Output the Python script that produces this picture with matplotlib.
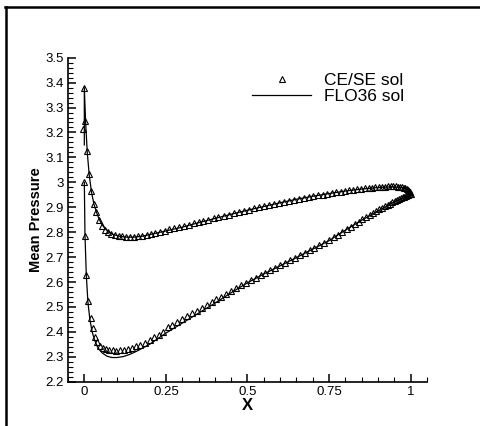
import matplotlib
matplotlib.use("Agg")
import matplotlib.pyplot as plt
from matplotlib.lines import Line2D
from matplotlib.ticker import MultipleLocator, FixedLocator, FixedFormatter
import numpy as np

plt.rcParams['font.family'] = ['Liberation Sans', 'DejaVu Sans']

# CE/SE solution, upper branch (leading edge -> trailing edge)
cese_upper_x = [0.0, 0.003, 0.008, 0.015, 0.022, 0.029, 0.037, 0.045, 0.054, 0.063,
                0.073, 0.083, 0.094, 0.105, 0.116, 0.128, 0.140, 0.152, 0.165, 0.178,
                0.191, 0.205, 0.218, 0.232, 0.246, 0.261, 0.275, 0.290, 0.305, 0.320,
                0.335, 0.350, 0.365, 0.380, 0.396, 0.411, 0.427, 0.442, 0.458, 0.473,
                0.489, 0.504, 0.520, 0.535, 0.551, 0.566, 0.581, 0.597, 0.612, 0.627,
                0.642, 0.657, 0.672, 0.687, 0.701, 0.716, 0.730, 0.744, 0.758, 0.771,
                0.785, 0.798, 0.811, 0.823, 0.836, 0.848, 0.859, 0.871, 0.882, 0.892,
                0.902, 0.912, 0.922, 0.931, 0.939, 0.947, 0.955, 0.962, 0.968, 0.974,
                0.979, 0.984, 0.989, 0.993, 0.996, 0.999, 1.0]
cese_upper_y = [3.380, 3.245, 3.125, 3.035, 2.965, 2.915, 2.880, 2.850, 2.825, 2.810,
                2.800, 2.793, 2.788, 2.785, 2.783, 2.782, 2.782, 2.782, 2.783, 2.786,
                2.789, 2.793, 2.797, 2.801, 2.806, 2.811, 2.815, 2.820, 2.825, 2.830,
                2.835, 2.840, 2.845, 2.850, 2.855, 2.860, 2.865, 2.870, 2.875, 2.880,
                2.885, 2.890, 2.895, 2.899, 2.904, 2.908, 2.912, 2.917, 2.921, 2.925,
                2.929, 2.933, 2.937, 2.941, 2.944, 2.948, 2.951, 2.954, 2.957, 2.960,
                2.963, 2.966, 2.968, 2.970, 2.972, 2.974, 2.976, 2.978, 2.979, 2.980,
                2.981, 2.982, 2.983, 2.984, 2.984, 2.984, 2.984, 2.983, 2.982, 2.981,
                2.979, 2.977, 2.974, 2.970, 2.965, 2.960, 2.955]

# CE/SE solution, lower branch (leading edge -> trailing edge)
cese_lower_x = [-0.004, 0.0, 0.002, 0.006, 0.012, 0.019, 0.026, 0.032, 0.040, 0.048,
                0.057, 0.066, 0.076, 0.087, 0.098, 0.109, 0.121, 0.133, 0.146, 0.159,
                0.172, 0.186, 0.200, 0.214, 0.228, 0.242, 0.256, 0.270, 0.285, 0.300,
                0.315, 0.330, 0.345, 0.360, 0.375, 0.390, 0.405, 0.420, 0.435, 0.450,
                0.465, 0.480, 0.495, 0.510, 0.525, 0.540, 0.555, 0.570, 0.585, 0.600,
                0.615, 0.630, 0.645, 0.660, 0.675, 0.690, 0.705, 0.720, 0.735, 0.750,
                0.764, 0.778, 0.791, 0.804, 0.817, 0.829, 0.841, 0.852, 0.863, 0.874,
                0.884, 0.894, 0.903, 0.912, 0.921, 0.929, 0.937, 0.944, 0.951, 0.958,
                0.964, 0.970, 0.975, 0.980, 0.985, 0.989, 0.993, 0.996, 0.999]
cese_lower_y = [3.215, 3.000, 2.785, 2.630, 2.525, 2.455, 2.415, 2.380, 2.360, 2.345,
                2.337, 2.332, 2.328, 2.326, 2.325, 2.326, 2.328, 2.331, 2.336, 2.342,
                2.349, 2.357, 2.367, 2.378, 2.389, 2.399, 2.419, 2.429, 2.440, 2.451,
                2.462, 2.474, 2.485, 2.496, 2.507, 2.519, 2.530, 2.541, 2.552, 2.563,
                2.575, 2.586, 2.597, 2.607, 2.617, 2.627, 2.637, 2.647, 2.657, 2.667,
                2.677, 2.687, 2.697, 2.707, 2.717, 2.727, 2.737, 2.748, 2.758, 2.768,
                2.779, 2.790, 2.801, 2.811, 2.822, 2.832, 2.842, 2.851, 2.860, 2.869,
                2.877, 2.885, 2.892, 2.898, 2.904, 2.910, 2.915, 2.920, 2.925, 2.929,
                2.933, 2.937, 2.940, 2.943, 2.946, 2.948, 2.950, 2.952, 2.953]

# FLO36 solution, upper branch (includes the stagnation segment at x = 0)
flo_upper_x = [0.0, 0.0, 0.004, 0.009, 0.015, 0.022, 0.030, 0.040, 0.050, 0.060,
               0.075, 0.090, 0.110, 0.130, 0.150, 0.175, 0.200, 0.250, 0.300, 0.350,
               0.400, 0.450, 0.500, 0.550, 0.600, 0.650, 0.700, 0.750, 0.800, 0.850,
               0.900, 0.940, 0.970, 0.990, 1.0]
flo_upper_y = [3.150, 3.380, 3.240, 3.120, 3.030, 2.960, 2.910, 2.870, 2.840, 2.820,
               2.800, 2.790, 2.783, 2.780, 2.780, 2.783, 2.790, 2.805, 2.820, 2.838,
               2.855, 2.872, 2.888, 2.903, 2.918, 2.932, 2.944, 2.955, 2.965, 2.973,
               2.979, 2.982, 2.980, 2.972, 2.955]

# FLO36 solution, lower branch
flo_lower_x = [0.0, 0.002, 0.006, 0.011, 0.017, 0.024, 0.032, 0.042, 0.055, 0.070,
               0.085, 0.100, 0.120, 0.140, 0.160, 0.180, 0.200, 0.250, 0.300, 0.350,
               0.400, 0.450, 0.500, 0.550, 0.600, 0.650, 0.700, 0.750, 0.800, 0.850,
               0.900, 0.950, 1.0]
flo_lower_y = [3.000, 2.790, 2.630, 2.520, 2.450, 2.400, 2.365, 2.335, 2.315, 2.302,
               2.297, 2.297, 2.301, 2.310, 2.322, 2.336, 2.350, 2.395, 2.435, 2.475,
               2.515, 2.557, 2.597, 2.632, 2.665, 2.698, 2.732, 2.766, 2.808, 2.848,
               2.885, 2.922, 2.950]

x_ticks = [0, 0.25, 0.5, 0.75, 1]
x_tick_labels = ["0", "0.25", "0.5", "0.75", "1"]
y_ticks = [2.2, 2.3, 2.4, 2.5, 2.6, 2.7, 2.8, 2.9, 3.0, 3.1, 3.2, 3.3, 3.4, 3.5]
y_tick_labels = ["2.2", "2.3", "2.4", "2.5", "2.6", "2.7", "2.8", "2.9", "3",
                 "3.1", "3.2", "3.3", "3.4", "3.5"]

W, H = 481, 426
fig = plt.figure(figsize=(W / 100, H / 100), dpi=100)
ax = fig.add_axes([68 / W, 1 - 381.7 / H, (427 - 68) / W, (381.7 - 57.7) / H])

marker_kw = dict(linestyle='none', marker='^', markersize=4.6, markerfacecolor='none',
                 markeredgecolor='black', markeredgewidth=0.8)
ax.plot(cese_upper_x, cese_upper_y, **marker_kw)
ax.plot(cese_lower_x, cese_lower_y, **marker_kw)
ax.plot(flo_upper_x, flo_upper_y, color='black', lw=0.9)
ax.plot(flo_lower_x, flo_lower_y, color='black', lw=0.9)

ax.set_xlim(-0.05, 1.05)
ax.set_ylim(2.2, 3.5)

for side in ('top', 'right'):
    ax.spines[side].set_visible(False)
for side in ('left', 'bottom'):
    ax.spines[side].set_linewidth(1.2)

ax.xaxis.set_major_locator(FixedLocator(x_ticks))
ax.xaxis.set_major_formatter(FixedFormatter(x_tick_labels))
ax.xaxis.set_minor_locator(MultipleLocator(0.05))
ax.yaxis.set_major_locator(FixedLocator(y_ticks))
ax.yaxis.set_major_formatter(FixedFormatter(y_tick_labels))
ax.yaxis.set_minor_locator(MultipleLocator(0.02))

ax.tick_params(axis='both', which='both', direction='in', labelsize=9.5, color='black')
ax.tick_params(axis='both', which='major', length=6, width=1.1)
ax.tick_params(axis='both', which='minor', length=3.5, width=0.8)
ax.tick_params(axis='y', which='both', pad=3)
ax.tick_params(axis='x', which='both', pad=3)

ax.set_xlabel("X", fontsize=12, fontweight='bold', labelpad=0)
ax.set_ylabel("Mean Pressure", fontsize=10.5, fontweight='bold', labelpad=2)

handles = [Line2D([], [], **marker_kw),
           Line2D([], [], color='black', lw=0.9)]
ax.legend(handles, ["CE/SE sol", "FLO36 sol"], loc='upper left',
          bbox_to_anchor=(0.5125, 0.952), frameon=False, fontsize=12.5,
          handlelength=3.4, handletextpad=0.75, labelspacing=0.05,
          borderaxespad=0, borderpad=0)

# outer frame lines (left and top)
fig.add_artist(Line2D([6 / W, 6 / W], [0, 1 - 7 / H], transform=fig.transFigure,
                      color='black', lw=1.8))
fig.add_artist(Line2D([5 / W, 1], [1 - 7 / H, 1 - 7 / H], transform=fig.transFigure,
                      color='black', lw=1.8))

fig.savefig("out.png", dpi=100)
